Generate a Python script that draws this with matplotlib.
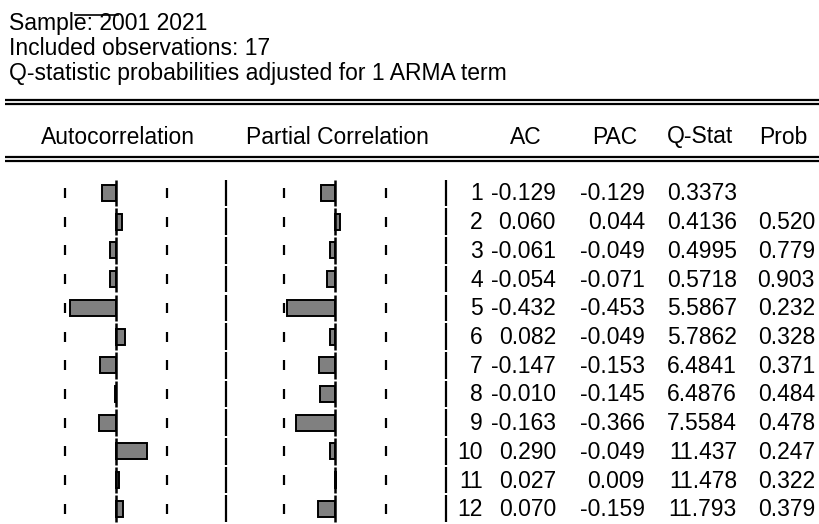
import numpy as np
import matplotlib.pyplot as plt

plt.rcParams['font.family'] = ['Liberation Sans', 'DejaVu Sans']

lags = np.arange(1, 13)
ac = np.array([-0.129, 0.060, -0.061, -0.054, -0.432, 0.082, -0.147, -0.010, -0.163, 0.290, 0.027, 0.070])
pac = np.array([-0.129, 0.044, -0.049, -0.071, -0.453, -0.049, -0.153, -0.145, -0.366, -0.049, 0.009, -0.159])
qstat = ["0.3373", "0.4136", "0.4995", "0.5718", "5.5867", "5.7862", "6.4841", "6.4876", "7.5584", "11.437", "11.478", "11.793"]
prob = ["", "0.520", "0.779", "0.903", "0.232", "0.328", "0.371", "0.484", "0.478", "0.247", "0.322", "0.379"]
nobs = 17

header_lines = ["Sample: 2001 2021",
                "Included observations: 17",
                "Q-statistic probabilities adjusted for 1 ARMA term"]
col_titles = ["Autocorrelation", "Partial Correlation", "AC", "PAC", "Q-Stat", "Prob"]

W, H = 820, 524
fig = plt.figure(figsize=(W / 100, H / 100), dpi=100)
ax = fig.add_axes([0, 0, 1, 1])
ax.set_xlim(0, W)
ax.set_ylim(H, 0)
ax.axis('off')

fs = 16.5
# top text
for i, s in enumerate(header_lines):
    ax.text(9, 30 + i * 25, s, fontsize=fs, va='baseline', ha='left')
ax.plot([75, 118], [14.5, 14.5], color='black', lw=1.2)

# double rules above and below the column titles
for y in (100, 104, 157, 161):
    ax.plot([5, W], [y, y], color='black', lw=1.6, solid_capstyle='butt')

ty = 137
ax.text(118, ty, col_titles[0], fontsize=fs, ha='center', va='center')
ax.text(337, ty, col_titles[1], fontsize=fs, ha='center', va='center')
for t, xr in zip(col_titles[2:], [542, 637, 733, 808]):
    ax.text(xr, ty, t, fontsize=fs, ha='right', va='center')

# rows
y0, dy = 193, 28.7
ys = y0 + (lags - 1) * dy
scale = 106.0
bound = 2 / np.sqrt(nobs)
zero_ac, zero_pac = 116, 335

for z, vals in ((zero_ac, ac), (zero_pac, pac)):
    ax.barh(ys, vals * scale, left=z, height=16, color='#808080',
            edgecolor='black', linewidth=1.4, zorder=3)
    for y in ys:
        ax.plot([z, z], [y - 13.3, y + 13.3], color='black', lw=1.8, zorder=4, solid_capstyle='butt')
        for b in (-bound, bound):
            ax.plot([z + b * scale] * 2, [y - 5, y + 5], color='black', lw=1.6, solid_capstyle='butt')

for xs in (226, 446):
    for y in ys:
        ax.plot([xs, xs], [y - 13.3, y + 13.3], color='black', lw=1.6, solid_capstyle='butt')

for i, y in enumerate(ys):
    ty2 = y + 1
    ax.text(483, ty2, str(lags[i]), fontsize=fs, ha='right', va='center')
    ax.text(556, ty2, f"{ac[i]:.3f}", fontsize=fs, ha='right', va='center')
    ax.text(645, ty2, f"{pac[i]:.3f}", fontsize=fs, ha='right', va='center')
    ax.text(737, ty2, qstat[i], fontsize=fs, ha='right', va='center')
    ax.text(815, ty2, prob[i], fontsize=fs, ha='right', va='center')

fig.savefig("out.png", dpi=100)
